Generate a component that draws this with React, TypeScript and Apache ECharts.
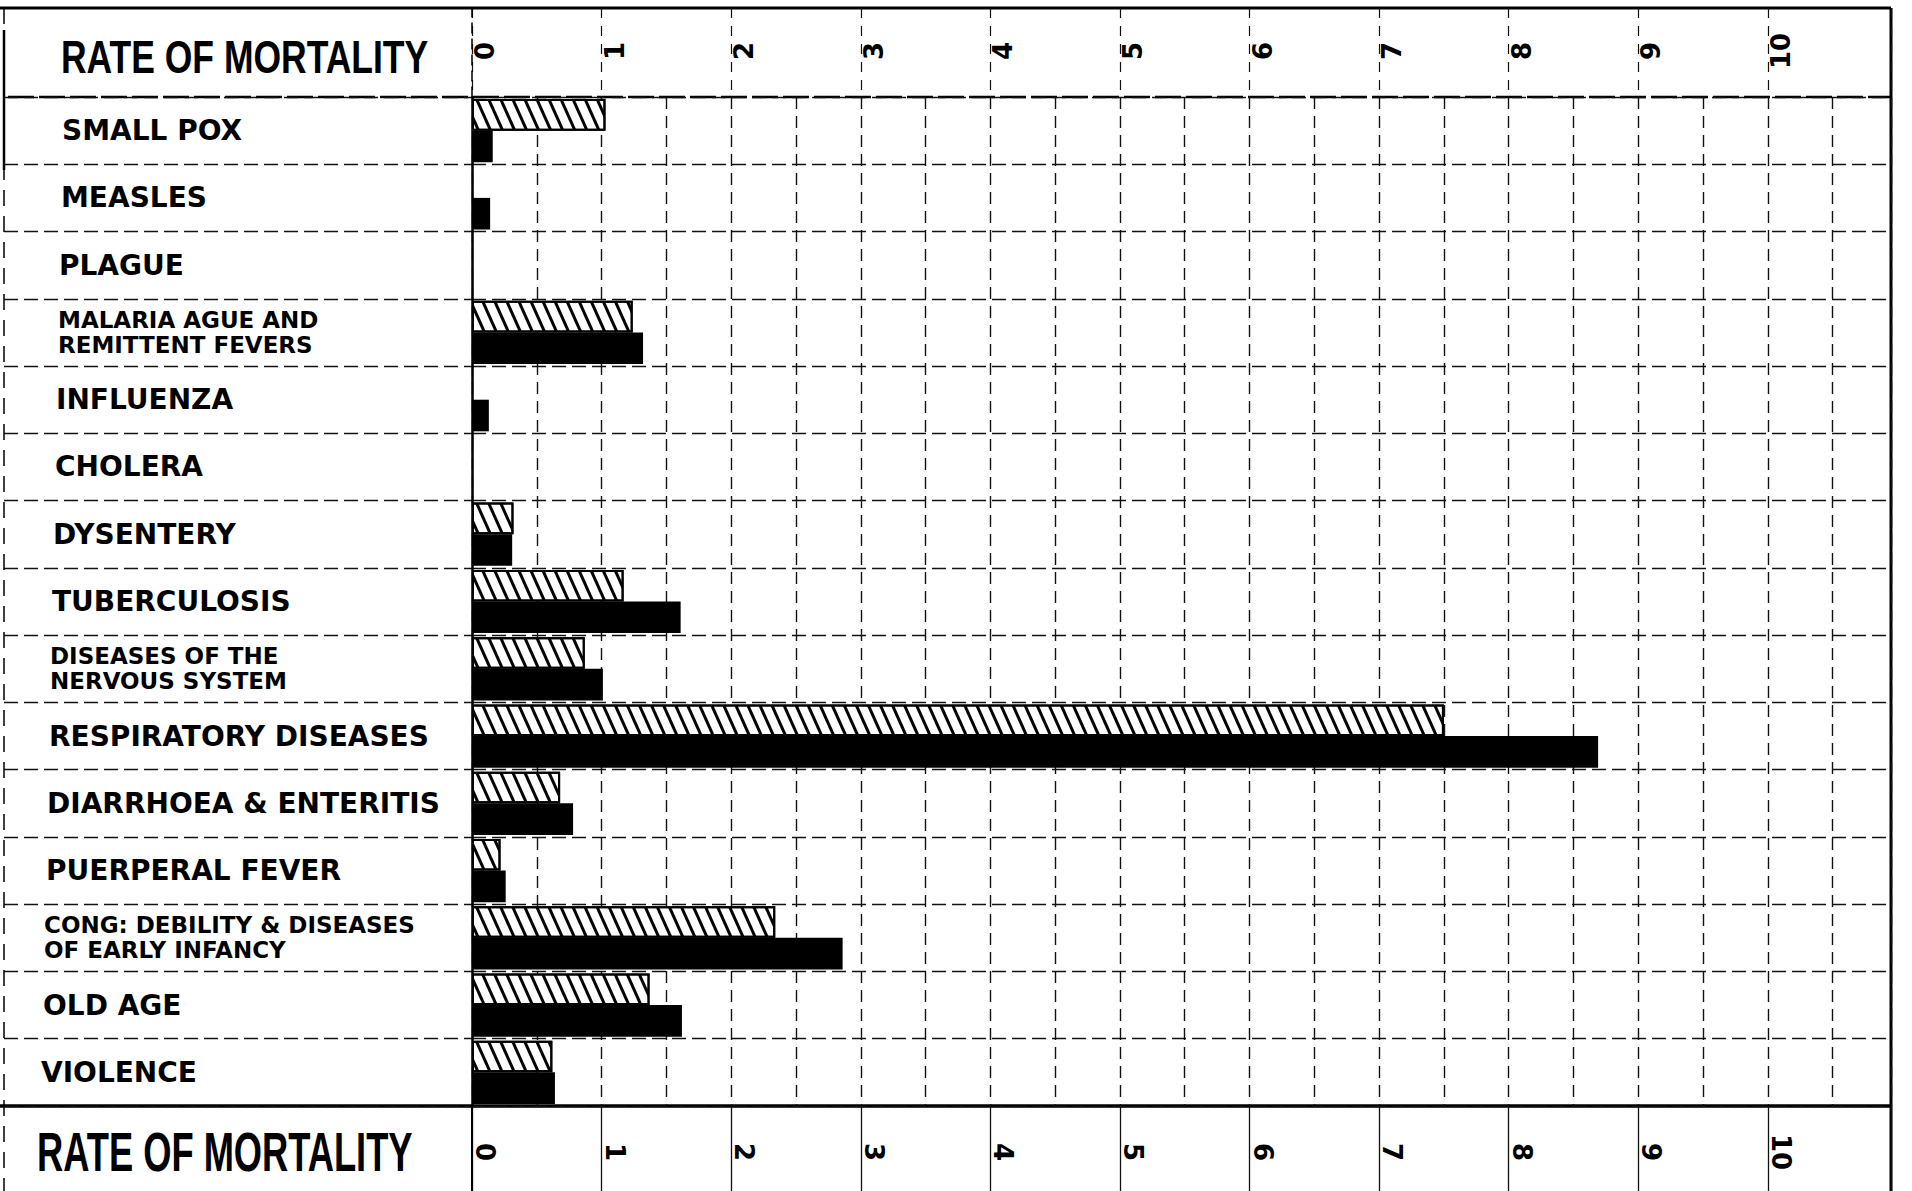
import React, { useEffect, useRef } from "react";
import * as echarts from "echarts";

// ---- data ----
const categories: string[] = [
  "SMALL POX",
  "MEASLES",
  "PLAGUE",
  "MALARIA AGUE AND\nREMITTENT FEVERS",
  "INFLUENZA",
  "CHOLERA",
  "DYSENTERY",
  "TUBERCULOSIS",
  "DISEASES OF THE\nNERVOUS SYSTEM",
  "RESPIRATORY DISEASES",
  "DIARRHOEA & ENTERITIS",
  "PUERPERAL FEVER",
  "CONG: DEBILITY & DISEASES\nOF EARLY INFANCY",
  "OLD AGE",
  "VIOLENCE",
];
const hatchedRates: (number | null)[] = [1.03, null, null, 1.24, null, null, 0.32, 1.17, 0.87, 7.5, 0.68, 0.22, 2.34, 1.37, 0.62];
const solidRates: (number | null)[] = [0.16, 0.14, null, 1.32, 0.13, null, 0.31, 1.61, 1.01, 8.69, 0.78, 0.26, 2.86, 1.62, 0.64];
const axisTitle = "RATE OF MORTALITY";
const axisMin = 0;
const axisMaxLabel = 10;
const axisMax = 10.95;

// ---- layout ----
const W = 1912;
const H = 1191;
const FRAME_TOP = 8;
const HEAD_BOTTOM = 97;
const FOOT_TOP = 1106;
const ZERO_X = 472;
const RIGHT_X = 1891;
const LABEL_X = 41;
const LABEL_FONT = "DejaVu Sans";

export default function App() {
  const ref = useRef<HTMLDivElement>(null);
  useEffect(() => {
    if (!ref.current) return;
    const chart = echarts.init(ref.current, undefined, { renderer: "svg" });

    const tickFormatter = (v: number) =>
      Math.abs(v - Math.round(v)) < 1e-6 && v <= axisMaxLabel ? String(Math.round(v)) : "";

    const tickLabelBase = {
      show: true,
      rotate: -90,
      margin: 46,
      align: "center",
      fontFamily: LABEL_FONT,
      fontWeight: "bold",
      fontSize: 26,
      color: "#000",
      formatter: tickFormatter,
      showMaxLabel: false,
    };
    const topTickLabel = { ...tickLabelBase, verticalAlign: "top" };
    const bottomTickLabel = { ...tickLabelBase, verticalAlign: "bottom" };

    const gridBase = { left: ZERO_X, right: W - RIGHT_X, containLabel: false, outerBoundsMode: "none" };

    const option: any = {
      animation: false,
      backgroundColor: "#fff",
      grid: [
        { ...gridBase, top: HEAD_BOTTOM, bottom: H - FOOT_TOP },
        { ...gridBase, top: FRAME_TOP, height: HEAD_BOTTOM - FRAME_TOP },
        { ...gridBase, top: FOOT_TOP, height: H - FOOT_TOP },
        { left: 4, width: ZERO_X - 4, top: HEAD_BOTTOM, bottom: H - FOOT_TOP, containLabel: false, outerBoundsMode: "none" },
      ],
      xAxis: [
        {
          gridIndex: 0,
          type: "value",
          position: "top",
          min: axisMin,
          max: axisMax,
          interval: 0.5,
          axisLine: { show: false },
          axisTick: { show: false },
          axisLabel: topTickLabel,
          splitLine: { show: true, lineStyle: { color: "#111", width: 1.4, type: [12, 7] } },
        },
        {
          gridIndex: 0,
          type: "value",
          position: "bottom",
          min: axisMin,
          max: axisMax,
          interval: 0.5,
          axisLine: { show: false },
          axisTick: { show: false },
          axisLabel: bottomTickLabel,
          splitLine: { show: false },
        },
        {
          gridIndex: 1,
          type: "value",
          min: axisMin,
          max: axisMax,
          interval: 1,
          axisLine: { show: false },
          axisTick: { show: false },
          axisLabel: { show: false },
          splitLine: { show: true, lineStyle: { color: "#111", width: 1.2, type: [10, 8] } },
        },
        {
          gridIndex: 2,
          type: "value",
          min: axisMin,
          max: axisMax,
          interval: 1,
          axisLine: { show: false },
          axisTick: { show: false },
          axisLabel: { show: false },
          splitLine: { show: true, lineStyle: { color: "#111", width: 1.3, type: "solid" } },
        },
        { gridIndex: 3, type: "value", show: false },
      ],
      yAxis: [
        {
          gridIndex: 0,
          type: "category",
          inverse: true,
          data: categories.map((c, i) => ({
            value: c,
            textStyle: {
              align: "left",
              padding: [0, 0, 0, Math.max(0, Math.round(21 - i * 1.5))],
            },
          })),
          axisLine: { show: true, lineStyle: { color: "#000", width: 2.5 } },
          axisTick: { show: false },
          axisLabel: {
            align: "left",
            margin: ZERO_X - LABEL_X,
            formatter: (v: string) =>
              v.includes("\n")
                ? v.split("\n").map((l) => `{s|${l}}`).join("\n")
                : `{b|${v}}`,
            rich: {
              b: { fontFamily: LABEL_FONT, fontWeight: "bold", fontSize: 28, color: "#000" },
              s: { fontFamily: LABEL_FONT, fontWeight: "bold", fontSize: 23, lineHeight: 25, color: "#000" },
            },
          },
          splitLine: { show: true, lineStyle: { color: "#111", width: 1.4, type: [14, 6] } },
        },
        {
          gridIndex: 1,
          type: "value",
          axisLine: { show: true, onZero: false, lineStyle: { color: "#000", width: 1.5, type: [10, 6] } },
          axisTick: { show: false },
          axisLabel: { show: false },
          splitLine: { show: false },
        },
        {
          gridIndex: 2,
          type: "value",
          axisLine: { show: true, onZero: false, lineStyle: { color: "#000", width: 2 } },
          axisTick: { show: false },
          axisLabel: { show: false },
          splitLine: { show: false },
        },
        {
          gridIndex: 3,
          type: "category",
          inverse: true,
          data: categories,
          axisLine: { show: false },
          axisTick: { show: false },
          axisLabel: { show: false },
          splitLine: { show: true, lineStyle: { color: "#111", width: 1.4, type: [14, 6] } },
        },
      ],
      series: [
        {
          type: "bar",
          name: "hatched",
          xAxisIndex: 0,
          yAxisIndex: 0,
          data: hatchedRates,
          barGap: "0%",
          barCategoryGap: "6%",
          itemStyle: {
            color: "#fff",
            borderColor: "#000",
            borderWidth: 2,
            decal: {
              symbol: "rect",
              symbolSize: 1,
              color: "#000",
              dashArrayX: [1, 0],
              dashArrayY: [3, 8],
              rotation: 1.15,
            },
          },
        },
        {
          type: "bar",
          name: "solid",
          xAxisIndex: 0,
          yAxisIndex: 0,
          data: solidRates,
          barGap: "0%",
          barCategoryGap: "6%",
          itemStyle: { color: "#000" },
        },
      ],
      graphic: [
        { type: "line", shape: { x1: 0, y1: FRAME_TOP, x2: RIGHT_X, y2: FRAME_TOP }, style: { stroke: "#000", lineWidth: 3 } },
        { type: "line", shape: { x1: RIGHT_X, y1: FRAME_TOP, x2: RIGHT_X, y2: H }, style: { stroke: "#000", lineWidth: 3 } },
        { type: "line", shape: { x1: 4, y1: FRAME_TOP, x2: 4, y2: H }, style: { stroke: "#000", lineWidth: 1.5, lineDash: [16, 10] } },
        { type: "line", shape: { x1: 4, y1: 30, x2: 4, y2: 170 }, style: { stroke: "#000", lineWidth: 2.5 } },
        { type: "line", shape: { x1: 8, y1: HEAD_BOTTOM, x2: RIGHT_X, y2: HEAD_BOTTOM }, style: { stroke: "#000", lineWidth: 2.5, lineDash: [26, 5] } },
        { type: "line", shape: { x1: 0, y1: FOOT_TOP, x2: RIGHT_X, y2: FOOT_TOP }, style: { stroke: "#000", lineWidth: 3.5 } },
        {
          type: "text",
          x: 61,
          y: (FRAME_TOP + HEAD_BOTTOM) / 2 + 4,
          scaleX: 0.755,
          style: {
            text: axisTitle,
            font: 'bold 47px "Liberation Sans"',
            fill: "#000",
            textVerticalAlign: "middle",
          },
        },
        {
          type: "text",
          x: 37,
          y: (FOOT_TOP + H) / 2 + 4,
          scaleX: 0.66,
          style: {
            text: axisTitle,
            font: 'bold 55px "Liberation Sans"',
            fill: "#000",
            textVerticalAlign: "middle",
          },
        },
      ],
    };

    chart.setOption(option);
    return () => chart.dispose();
  }, []);

  return (
    <div
      ref={ref}
      style={{ position: "fixed", left: 0, top: 0, width: W, height: H, background: "#fff" }}
    />
  );
}
